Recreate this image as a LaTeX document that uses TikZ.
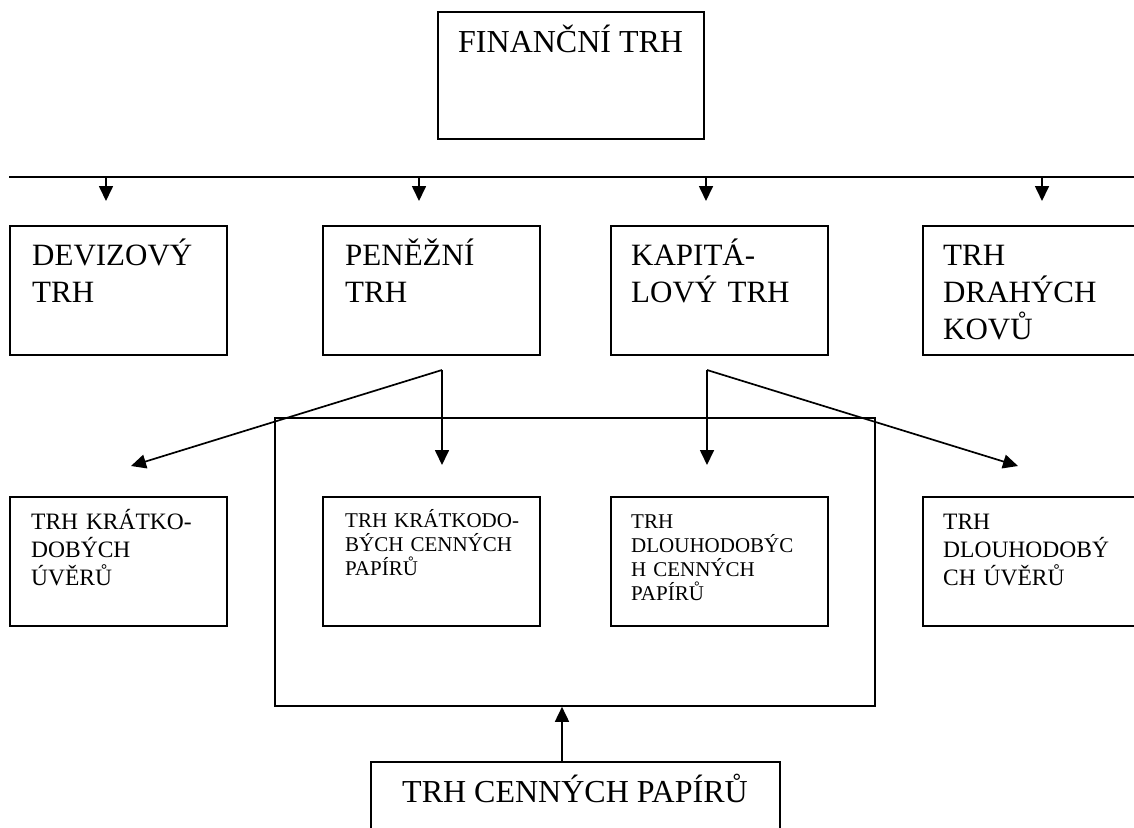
\documentclass[tikz,border=0pt]{standalone}
\usepackage{fontspec}
\setmainfont{Liberation Serif}
\usetikzlibrary{arrows.meta}
\begin{document}
\begin{tikzpicture}[x=1pt,y=-1pt,
  box/.style={draw,line width=1.8pt,anchor=north west,inner sep=0pt,minimum width=217pt,minimum height=129pt},
  frame/.style={draw,line width=1.8pt,anchor=north west,inner sep=0pt},
  txt/.style={anchor=base west,inner sep=0pt,align=left,text width=205pt},
  onetxt/.style={anchor=base west,inner sep=0pt,font=\fontsize{32}{37}\selectfont},
  bigtxt/.style={txt,font=\fontsize{31}{37}\selectfont},
  midtxt/.style={txt,font=\fontsize{23.5}{28}\selectfont},
  smalltxt/.style={txt,font=\fontsize{21}{24}\selectfont},
  conn/.style={line width=1.7pt},
  arr/.style={line width=1.7pt,-{Triangle[length=15pt,width=14pt]}}]
\useasboundingbox (0,0) rectangle (1134,827);
\clip (0,0) rectangle (1134,827);

% top box
\node[frame,minimum width=266pt,minimum height=127pt] (fin) at (437,11) {};
\node[onetxt] (finT) at (458,52) {FINANČNÍ TRH};

% bus line
\coordinate (busL) at (9,177);
\coordinate (busR) at (1140,177);
\draw[conn] (busL) -- (busR);

% second row
\node[box] (A) at (9,225) {};
\node[box] (B) at (322,225) {};
\node[box] (C) at (610,225) {};
\node[box] (D) at (922,225) {};
\node[bigtxt] (AT) at (32,265) {DEVIZOVÝ\\TRH};
\node[bigtxt] (BT) at (345,265) {PENĚŽNÍ\\TRH};
\node[bigtxt] (CT) at (631,265) {KAPITÁ-\\LOVÝ TRH};
\node[bigtxt] (DT) at (943,265) {TRH\\DRAHÝCH\\KOVŮ};

% arrows from bus
\coordinate (tA) at (106,201);
\coordinate (tB) at (419,201);
\coordinate (tC) at (706,201);
\coordinate (tD) at (1042,201);
\foreach \t in {tA,tB,tC,tD}
  \draw[arr] (\t |- busL) -- (\t);

% big frame (securities market)
\node[frame,minimum width=600pt,minimum height=288pt] (S) at (274,417) {};

% third row
\node[box] (E) at (9,496) {};
\node[box] (F) at (322,496) {};
\node[box] (G) at (610,496) {};
\node[box] (H) at (922,496) {};
\node[midtxt] (ET) at (31,529) {TRH KRÁTKO-\\DOBÝCH\\ÚVĚRŮ};
\node[smalltxt] (FT) at (345,527) {TRH KRÁTKODO-\\BÝCH CENNÝCH\\PAPÍRŮ};
\node[smalltxt] (GT) at (631,528) {TRH\\DLOUHODOBÝC\\H CENNÝCH\\PAPÍRŮ};
\node[midtxt] (HT) at (943,529) {TRH\\DLOUHODOBÝ\\CH ÚVĚRŮ};

% branching connectors
\coordinate (vB) at (442,370);
\coordinate (vC) at (707,370);
\coordinate (tE) at (131,466);
\coordinate (tF) at (442,465);
\coordinate (tG) at (707,465);
\coordinate (tH) at (1018,466);
\draw[arr] (vB) -- (tE);
\draw[arr] (vB) -- (tF);
\draw[arr] (vC) -- (tG);
\draw[arr] (vC) -- (tH);

% bottom box
\node[frame,minimum width=409pt,minimum height=130pt] (P) at (370,761) {};
\node[onetxt] (PT) at (402,802) {TRH CENNÝCH PAPÍRŮ};
\coordinate (up) at (562,0);
\draw[arr] (P.north -| up) -- (S.south -| up);
\end{tikzpicture}
\end{document}
